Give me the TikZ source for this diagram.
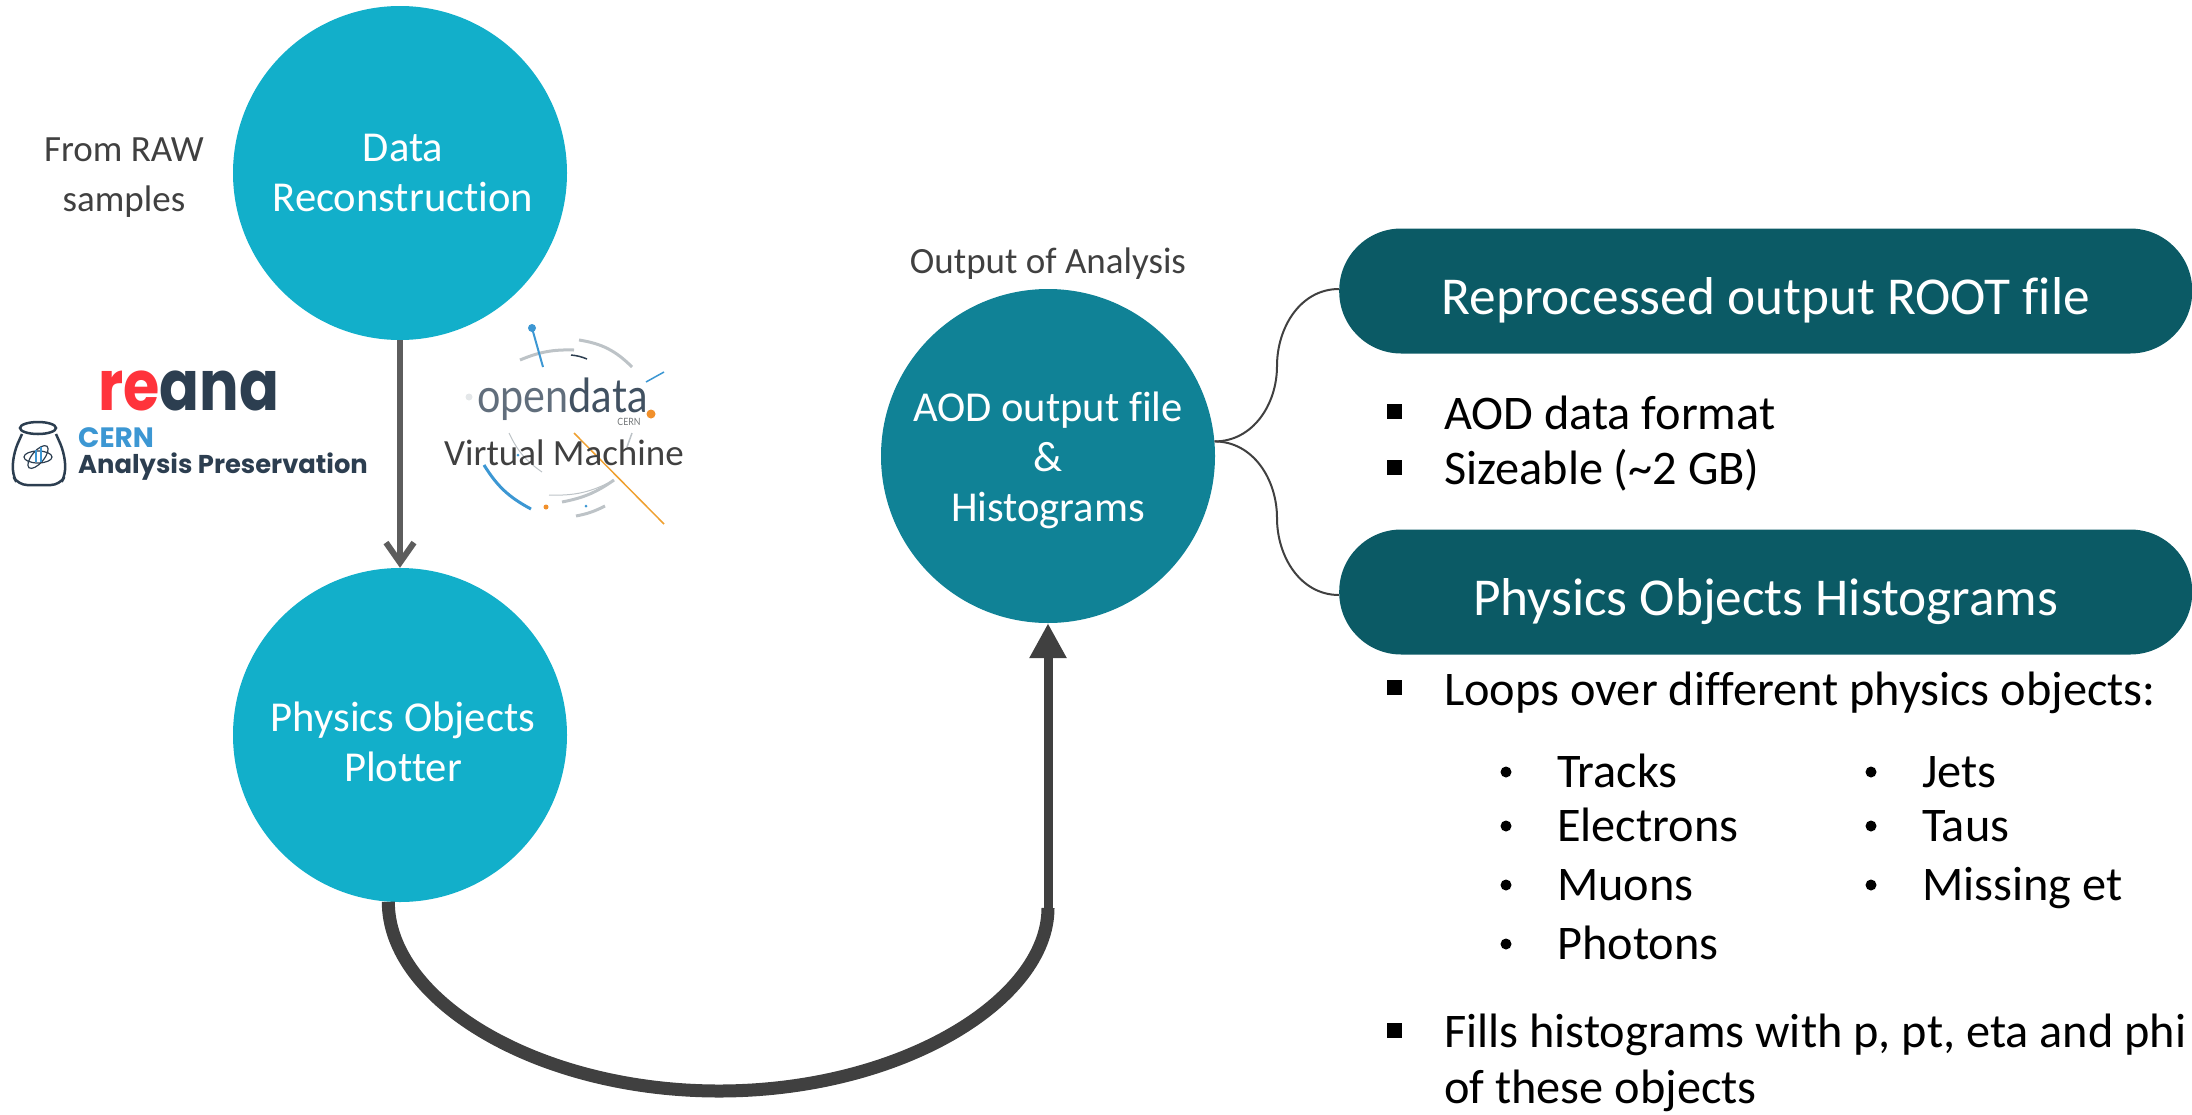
\documentclass[tikz,border=0pt]{standalone}
\usepackage{fontspec}
\setmainfont[Ligatures=NoCommon]{Carlito}
\newfontfamily\logofont{Poppins}
\newfontfamily\opfont[FakeStretch=.88]{Lato}
\usetikzlibrary{arrows.meta, positioning}

\definecolor{tealA}{HTML}{12AFCA}
\definecolor{tealB}{HTML}{108296}
\definecolor{tealC}{HTML}{0B5A65}
\definecolor{greyA}{HTML}{404040}
\definecolor{slate}{HTML}{2C3E50}
\definecolor{logoblue}{HTML}{3C97D3}
\definecolor{logored}{HTML}{FF333B}
\definecolor{logoorange}{HTML}{EFA030}
\definecolor{logogrey}{HTML}{BDC3C7}

\begin{document}
\begin{tikzpicture}[x=1pt,y=-1pt,
	bubble/.style={circle,minimum size=334pt,inner sep=0pt,text=white,align=center,font=\fontsize{42.6}{50}\selectfont},
	pill/.style={rectangle,rounded corners=62pt,minimum width=853pt,minimum height=125pt,inner sep=0pt,fill=tealC,text=white,text height=47pt,text depth=0pt,font=\fontsize{53.3}{56}\selectfont},
	note/.style={text=greyA,align=center,inner sep=0pt,font=\fontsize{37}{50}\selectfont},
	item/.style={anchor=base west,inner sep=0pt,text=black,font=\fontsize{48.3}{50}\selectfont},
	sqbul/.style={rectangle,fill=black,minimum size=15pt,inner sep=0pt},
	dotbul/.style={circle,fill=black,minimum size=11pt,inner sep=0pt},
	brace/.style={draw=greyA,line width=2pt},
	arc/.style={line width=3pt,draw=logogrey}]
\useasboundingbox (0,0) rectangle (2192,1114);

\node [bubble,fill=tealA] (reco) at (400,173) {\hspace*{6pt}Data\\\hspace*{6pt}Reconstruction};
\node [bubble,fill=tealA] (plot) at (400,735) {\rule{0pt}{43pt}\hspace*{6pt}Physics Objects\\\hspace*{6pt}Plotter};
\node [bubble,fill=tealB] (aod) at (1048,456) {\rule{0pt}{38pt}AOD output file\\\&\\Histograms};

\node [note] (raw) at (124,178) {From RAW\\samples};
\node [note] (out) at (1048,264) {Output of Analysis};

\node [pill,anchor=west] (root) at (1339,291) {Reprocessed output ROOT file};
\node [pill,anchor=west] (hist) at (1339,592) {Physics Objects Histograms};

% logo, open data
\draw [arc] (579,340) to[bend left=18] (632,367);
\draw [arc] (520,360) to[bend left=12] (574,350);
\draw [arc,draw=slate,line width=1.5pt] (571,355) to[bend left=8] (587,359);
\draw [arc,draw=logoblue] (484,465) to[bend right=15] (531,509);
\draw [arc] (562,502) to[bend right=12] (614,480);
\draw [arc] (576,516) to[bend right=8] (605,506);
\draw [arc,line width=1pt] (509,433) to[bend right=15] (542,472);
\draw [arc,line width=1pt] (549,495) to[bend right=15] (614,480);
\draw [arc,line width=1.5pt] (632,433) -- (627,447);
\draw [logoblue,line width=2pt] (532,328) -- (543,367);
\draw [logoblue,line width=1.5pt] (646,382) -- (664,372);
\draw [logoorange,line width=1.5pt] (574,433) -- (664,524);
\fill [logoblue] (532,328) circle (4pt) (586,506) circle (1.5pt) (518,455) circle (1.5pt);
\fill [logoorange!90!red] (546,507) circle (2.5pt) (651,414) circle (4.5pt);
\fill [logogrey!40] (469,397) circle (3.5pt);
\node [anchor=base west,inner sep=0pt,text=slate!75,font=\opfont\fontsize{47}{50}\selectfont] (opendata) at (477,412) {open\textcolor{slate!90}{data}};
\node [text=logogrey!60!black,inner sep=0pt,font=\opfont\fontsize{10}{12}\selectfont] (cern) at (629,422) {CERN};
\node [note] (vm) at (564,453) {Virtual Machine};

% logo, reana
\node [anchor=base west,inner sep=0pt,text depth=0pt,font=\logofont\bfseries\fontsize{70}{70}\selectfont,text=slate] (reana) at (98,410) {\scalebox{.84}[1]{\textcolor{logored}{re}ana}};
\node [anchor=base west,inner sep=0pt,text height=20pt,text depth=0pt,text=logoblue,font=\logofont\bfseries\fontsize{28}{28}\selectfont] (cap) at (78,447) {CERN};
\node [anchor=base west,inner sep=0pt,text height=20pt,text=slate,font=\logofont\bfseries\fontsize{25.8}{26}\selectfont] (pres) at (78,473) {Analysis Preservation};
\draw [slate,line width=2.5pt,rounded corners=9pt] (22,434) -- (14,452) -- (12,474) -- (18,485) -- (60,485) -- (66,474) -- (64,452) -- (56,434);
\draw [slate,line width=2.5pt] (38,428) ellipse (18pt and 6pt);
\draw [slate,line width=1.2pt] (38,457) ellipse (14pt and 6pt);
\draw [slate,line width=1.2pt,rotate around={50:(38,457)}] (38,457) ellipse (14pt and 6pt);
\draw [logoblue,line width=2pt] (36,462) -- (36,450) (41,462) -- (41,447);

% arrows
\draw [-{Straight Barb[length=20pt,width=28pt]},draw=greyA!85,line width=6pt] (reco.south) -- (plot.north);
\coordinate (low) at (719,1091);
\coordinate (join) at (1048,908);
\draw [draw=greyA,line width=13pt] (plot.-94.5) .. controls (388,1000) and (537,1091) .. (low) .. controls (901,1091) and (1048,1000) .. (join);
\draw [-{Triangle[length=35pt,width=35pt]},draw=greyA,line width=9pt] (join) -- (aod.south);

\coordinate (rootend) at (1339,289);
\coordinate (histend) at (1339,595);
\draw [brace] (aod.5) to[out=0,in=-90] (1277,366) to[out=90,in=180] (rootend);
\draw [brace] (aod.5) to[out=0,in=90] (1277,518) to[out=-90,in=180] (histend);

% bullet lists
\foreach \n/\y in {a/411,b/467,c/687,d/1030}
	\node [sqbul] (s\n) at (1394,\y) {};
\foreach \n/\y/\t in {a/429/AOD data format,b/484/{Sizeable (\textasciitilde2 GB)},c/705/Loops over different physics objects:,d/1047/{Fills histograms with p, pt, eta and phi},e/1103/of these objects}
	\node [item] (i\n) at (1444,\y) {\t};
\foreach \n/\x/\y/\t in {f/1557/787/Tracks,g/1557/841/Electrons,h/1557/900/Muons,j/1557/959/Photons,k/1922/787/Jets,l/1922/841/Taus,m/1922/900/Missing et}
	\node [item] (i\n) at (\x,\y) {\t};
\foreach \n/\x/\y in {f/1506/772,g/1506/826,h/1506/885,j/1506/944,k/1871/772,l/1871/826,m/1871/885}
	\node [dotbul] (d\n) at (\x,\y) {};

\end{tikzpicture}
\end{document}
